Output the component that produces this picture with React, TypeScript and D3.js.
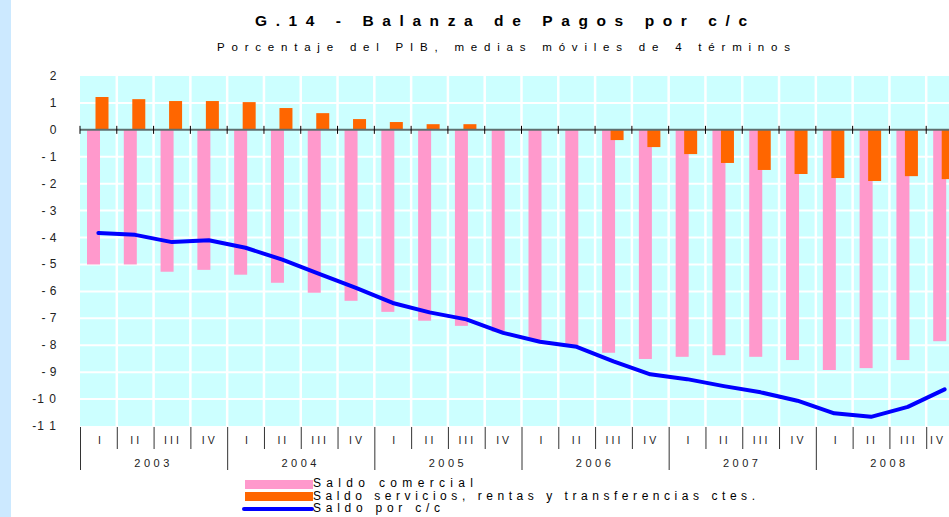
import React from "react";
import * as d3 from "d3";

const years = ["2003", "2004", "2005", "2006", "2007", "2008"];
const quarters = ["I", "II", "III", "IV"];
const yTicks = [2, 1, 0, -1, -2, -3, -4, -5, -6, -7, -8, -9, -10, -11];

const saldoComercial = [
  -5.0, -5.0, -5.27, -5.2, -5.38, -5.68, -6.05, -6.35,
  -6.76, -7.09, -7.28, -7.5, -7.81, -8.06, -8.28, -8.51,
  -8.43, -8.37, -8.43, -8.55, -8.92, -8.85, -8.55, -7.85,
];
const saldoServicios = [
  1.22, 1.14, 1.07, 1.07, 1.03, 0.81, 0.62, 0.4,
  0.29, 0.21, 0.21, 0.0, 0.03, 0.03, -0.38, -0.64,
  -0.9, -1.23, -1.49, -1.64, -1.79, -1.9, -1.72, -1.83,
];
const saldoCC = [
  -3.83, -3.9, -4.17, -4.1, -4.38, -4.82, -5.35, -5.87,
  -6.43, -6.78, -7.04, -7.54, -7.87, -8.06, -8.6, -9.08,
  -9.26, -9.52, -9.75, -10.06, -10.53, -10.66, -10.29, -9.64,
];

const legendLabels = [
  "Saldo comercial",
  "Saldo servicios, rentas y transferencias ctes.",
  "Saldo por c/c",
];

const categories = years.flatMap((y) => quarters.map((q) => `${y}-${q}`));

const W = 949;
const H = 517;
const X0 = 80;
const X1 = 963;
const Y0 = 76;
const Y1 = 426;

const FONT = "'Liberation Sans', Arial, sans-serif";

function fmtTick(v: number): string {
  if (v >= 0) return String(v);
  const s = String(Math.abs(v));
  if (s.length === 1) return "- " + s;
  return "-" + s.split("").join(" ");
}

export default function App() {
  const x = d3.scaleBand<string>().domain(categories).range([X0, X1]).padding(0);
  const y = d3.scaleLinear().domain([2, -11]).range([Y0, Y1]);
  const bw = x.bandwidth();

  const line = d3
    .line<number>()
    .x((_, i) => (x(categories[i]) as number) + bw / 2)
    .y((d) => y(d));

  const gridH = d3.range(-10, 2).filter((v) => v !== 0);

  return (
    <div style={{ position: "absolute", left: 0, top: 0 }}>
      <svg width={W} height={H} style={{ display: "block", background: "#fff" }}>
        <defs>
          <clipPath id="clipPlot">
            <rect x={0} y={0} width={W} height={H} />
          </clipPath>
        </defs>
        <rect x={0} y={0} width={11} height={H} fill="#cce9ff" />

        <text
          x={255}
          y={26}
          fontFamily={FONT}
          fontSize={15.5}
          fontWeight="bold"
          textLength={492}
          lengthAdjust="spacing"
          fill="#000"
        >
          G.14 - Balanza de Pagos por c/c
        </text>
        <text
          x={217}
          y={51}
          fontFamily={FONT}
          fontSize={11.5}
          textLength={573}
          lengthAdjust="spacing"
          fill="#000"
        >
          Porcentaje del PIB, medias móviles de 4 términos
        </text>

        <g clipPath="url(#clipPlot)">
          <rect x={X0} y={Y0} width={X1 - X0} height={Y1 - Y0} fill="#ccffff" />
          {gridH.map((v) => (
            <line key={"h" + v} x1={X0} x2={X1} y1={y(v)} y2={y(v)} stroke="#fff" strokeWidth={2} />
          ))}
          {categories.slice(1).map((c) => (
            <line
              key={"v" + c}
              x1={x(c) as number}
              x2={x(c) as number}
              y1={Y0}
              y2={Y1}
              stroke="#fff"
              strokeWidth={2.5}
            />
          ))}

          {saldoComercial.map((v, i) => {
            const cx = x(categories[i]) as number;
            return (
              <rect
                key={"p" + i}
                x={cx + 7}
                width={13}
                y={Math.min(y(0), y(v))}
                height={Math.abs(y(v) - y(0))}
                fill="#ff99cc"
              />
            );
          })}
          {saldoServicios.map((v, i) => {
            const cx = x(categories[i]) as number;
            return (
              <rect
                key={"o" + i}
                x={cx + 15.5}
                width={13}
                y={Math.min(y(0), y(v))}
                height={Math.abs(y(v) - y(0))}
                fill="#ff6600"
              />
            );
          })}

          <line x1={X0} x2={X1} y1={y(0)} y2={y(0)} stroke="#5f6f6f" strokeWidth={2} />
          {categories.map((c) => (
            <line
              key={"t" + c}
              x1={x(c) as number}
              x2={x(c) as number}
              y1={y(0) - 4}
              y2={y(0) + 4}
              stroke="#000"
              strokeWidth={1}
            />
          ))}

          <path
            d={line(saldoCC) || ""}
            fill="none"
            stroke="#0000ff"
            strokeWidth={4}
            strokeLinejoin="round"
            strokeLinecap="round"
          />

          {categories.map((c, i) => (
            <line
              key={"b" + c}
              x1={(x(c) as number) + 0.5}
              x2={(x(c) as number) + 0.5}
              y1={Y1 + 1}
              y2={i % 4 === 0 ? 470 : 449}
              stroke="#333"
              strokeWidth={1}
            />
          ))}
        </g>

        {categories.map((c, i) => (
          <text
            key={"q" + c}
            x={Math.min((x(c) as number) + bw / 2 + 1, 938)}
            y={444}
            textAnchor="middle"
            fontFamily={FONT}
            fontSize={10.5}
            letterSpacing={quarters[i % 4].length > 1 ? 3 : 0}
            fill="#222"
          >
            {quarters[i % 4]}
          </text>
        ))}
        {years.map((yr, k) => (
          <text
            key={"y" + yr}
            x={(x(categories[k * 4]) as number) + bw * 2}
            y={467}
            textAnchor="middle"
            fontFamily={FONT}
            fontSize={11}
            letterSpacing={3.5}
            fill="#222"
          >
            {yr}
          </text>
        ))}

        {yTicks.map((v) => (
          <text
            key={"yt" + v}
            x={57}
            y={y(v) + 4}
            textAnchor="end"
            fontFamily={FONT}
            fontSize={12}
            letterSpacing={v <= -10 ? 1 : 0.5}
            fill="#222"
            style={{ whiteSpace: "pre" }}
          >
            {fmtTick(v)}
          </text>
        ))}

        <rect x={245} y={480} width={68} height={9} fill="#ff99cc" />
        <rect x={245} y={492} width={68} height={9} fill="#ff6600" />
        <line x1={244} x2={312} y1={509} y2={509} stroke="#0000ff" strokeWidth={4} strokeLinecap="round" />
        {legendLabels.map((t, i) => (
          <text
            key={"lg" + i}
            x={313}
            y={487 + i * 12.5}
            fontFamily={FONT}
            fontSize={12}
            textLength={[160, 442, 127][i]}
            lengthAdjust="spacing"
            fill="#000"
          >
            {t}
          </text>
        ))}
      </svg>
    </div>
  );
}
